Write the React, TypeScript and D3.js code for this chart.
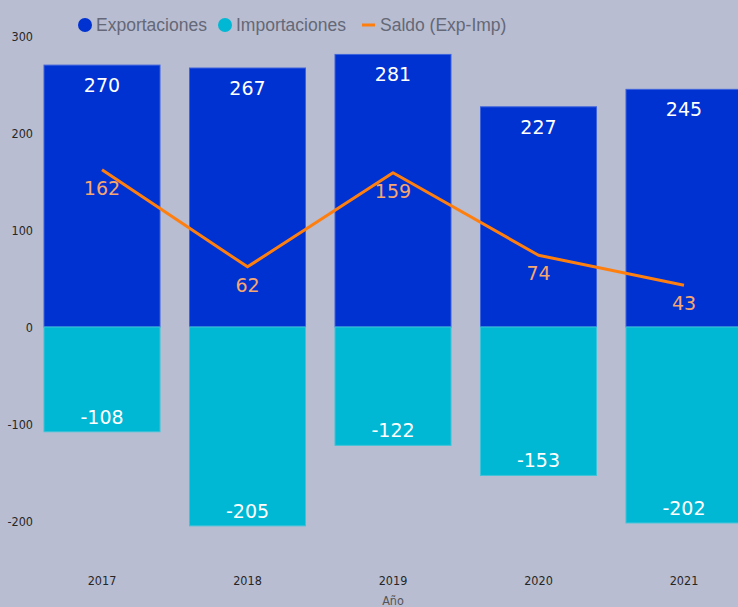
import React from "react";
import * as d3 from "d3";

const years = ["2017", "2018", "2019", "2020", "2021"];
const exportaciones = [270, 267, 281, 227, 245];
const importaciones = [-108, -205, -122, -153, -202];
const saldo = [162, 62, 159, 74, 43];
const yTicks = [300, 200, 100, 0, -100, -200];
const legendItems = ["Exportaciones", "Importaciones", "Saldo (Exp-Imp)"];

const W = 738;
const H = 607;
const BG = "#b9bdd1";
const BLUE = "#0032d2";
const CYAN = "#00b8d3";
const ORANGE = "#ff7f0e";
const PEACH = "#f6a66f";
const AXIS_FONT = "'DejaVu Sans Condensed', 'Liberation Sans', Arial, sans-serif";
const LABEL_FONT = "'DejaVu Sans', Verdana, sans-serif";

export default function App() {
  const x = d3
    .scaleBand<string>()
    .domain(years)
    .range([29.25, 756.75])
    .paddingInner(0.2027)
    .paddingOuter(0.1014);
  const y = d3.scaleLinear().domain([-200, 300]).range([521, 36]);
  const bw = x.bandwidth();
  const cx = (yr: string) => (x(yr) as number) + bw / 2;

  const line = d3
    .line<number>()
    .x((_, i) => cx(years[i]))
    .y((d) => y(d));

  return (
    <svg
      width={W}
      height={H}
      style={{ position: "absolute", left: 0, top: 0, background: BG }}
    >
      <rect x={0} y={0} width={W} height={H} fill={BG} />
      {/* legend */}
      <g fontFamily="'Liberation Sans', Arial, sans-serif" fontSize={17.5} fill="#646877">
        <circle cx={85} cy={25} r={7} fill={BLUE} />
        <text x={96} y={31}>{legendItems[0]}</text>
        <circle cx={225} cy={25} r={7} fill={CYAN} />
        <text x={236} y={31}>{legendItems[1]}</text>
        <line x1={362} x2={375} y1={25} y2={25} stroke={ORANGE} strokeWidth={3} />
        <text x={380} y={31}>{legendItems[2]}</text>
      </g>
      {/* y axis labels */}
      <g fontFamily={AXIS_FONT} fontSize={12.5} fill="#262626" textAnchor="end">
        {yTicks.map((t) => (
          <text key={t} x={33} y={y(t) + 5}>
            {t}
          </text>
        ))}
      </g>
      {/* bars */}
      {years.map((yr, i) => (
        <g key={yr}>
          <rect
            x={x(yr)}
            y={y(exportaciones[i])}
            width={bw}
            height={y(0) - y(exportaciones[i])}
            fill={BLUE}
            stroke="#3e63dc"
            strokeWidth={1}
          />
          <rect
            x={x(yr)}
            y={y(0)}
            width={bw}
            height={y(importaciones[i]) - y(0)}
            fill={CYAN}
            stroke="#3cc4da"
            strokeWidth={1}
          />
        </g>
      ))}
      {/* bar labels */}
      <g fontFamily={LABEL_FONT} fontSize={19} fill="#ffffff" textAnchor="middle" fontWeight={500}>
        {years.map((yr, i) => (
          <g key={yr}>
            <text x={cx(yr)} y={y(exportaciones[i]) + 27}>
              {exportaciones[i]}
            </text>
            <text x={cx(yr)} y={y(importaciones[i]) - 8}>
              {importaciones[i]}
            </text>
          </g>
        ))}
      </g>
      {/* line */}
      <path d={line(saldo) || ""} fill="none" stroke={ORANGE} strokeWidth={3} strokeLinejoin="round" />
      <g fontFamily={LABEL_FONT} fontSize={19} fill={PEACH} textAnchor="middle">
        {years.map((yr, i) => (
          <text key={yr} x={cx(yr)} y={y(saldo[i]) + 25}>
            {saldo[i]}
          </text>
        ))}
      </g>
      {/* x axis labels */}
      <g fontFamily={AXIS_FONT} fontSize={12.5} fill="#262626" textAnchor="middle">
        {years.map((yr) => (
          <text key={yr} x={cx(yr)} y={585}>
            {yr}
          </text>
        ))}
        <text x={393} y={605} fill="#555">Año</text>
      </g>
    </svg>
  );
}
